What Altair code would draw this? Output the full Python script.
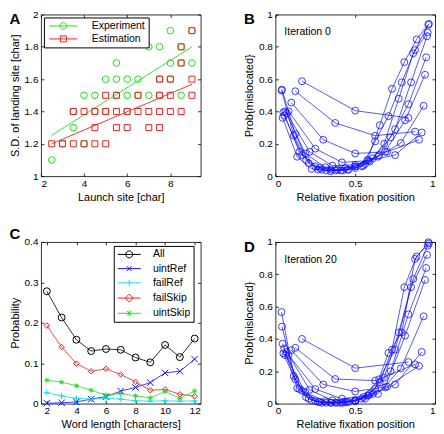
import altair as alt
import pandas as pd

FONT = "Liberation Sans"

# ---------------- Panel A : launch site vs S.D. of landing site ----------------
launch_exp = [2.5, 3, 3.5, 3.5, 4, 4, 4.5, 4.5, 5, 5, 5.5, 5.5, 5.5, 6, 6, 6, 6.5, 6.5,
              7, 7, 7.5, 7.5, 7.5, 8, 8, 8, 8.5, 8.5, 8.5, 9, 9]
sd_exp = [1.1, 1.2, 1.3, 1.4, 1.5, 1.2, 1.5, 1.4, 1.6, 1.4, 1.7, 1.6, 1.5, 1.6, 1.5, 1.4, 1.6, 1.5,
          1.8, 1.5, 1.8, 1.6, 1.5, 1.9, 1.7, 1.6, 1.8, 1.7, 1.5, 1.9, 1.7]
launch_est = [2.5, 3, 3.5, 3.5, 4, 4, 4.5, 4.5, 4.5, 5, 5, 5, 5.5, 5.5, 5.5, 6, 6, 6.5, 6.5,
              7, 7, 7.5, 7.5, 7.5, 7.5, 8, 8, 8, 8.5, 8.5, 8.5, 9, 9, 9]
sd_est = [1.2, 1.2, 1.4, 1.2, 1.4, 1.2, 1.4, 1.3, 1.2, 1.5, 1.4, 1.2, 1.5, 1.4, 1.3, 1.4, 1.3, 1.5, 1.4,
          1.4, 1.3, 1.6, 1.5, 1.4, 1.3, 1.6, 1.5, 1.4, 1.8, 1.7, 1.4, 1.9, 1.6, 1.5]
fit_launch = [2.5, 9.0]
fit_exp = [1.253, 1.800]
fit_est = [1.200, 1.568]
series_A = ["Experiment", "Estimation"]

# ---------------- Panel C : probabilities by word length ----------------
word_len = [2, 3, 4, 5, 6, 7, 8, 9, 10, 11, 12]
p_all = [0.278, 0.213, 0.158, 0.130, 0.135, 0.133, 0.114, 0.102, 0.145, 0.115, 0.161]
p_uintRef = [0.001, 0.002, 0.004, 0.011, 0.017, 0.031, 0.040, 0.052, 0.076, 0.080, 0.110]
p_failRef = [0.027, 0.019, 0.013, 0.011, 0.013, 0.011, 0.007, 0.006, 0.007, 0.006, 0.007]
p_failSkip = [0.193, 0.140, 0.099, 0.080, 0.086, 0.072, 0.054, 0.033, 0.035, 0.023, 0.018]
p_uintSkip = [0.058, 0.053, 0.044, 0.033, 0.021, 0.025, 0.019, 0.014, 0.030, 0.013, 0.031]
series_C = ["All", "uintRef", "failRef", "failSkip", "uintSkip"]

# ---------------- Panel B : iteration 0 (one curve per length 3..13) ----------------
it0_len3 = [0.587, 0.405, 0.360]
it0_len4 = [0.525, 0.329, 0.250, 0.275]
it0_len5 = [0.455, 0.225, 0.140, 0.150, 0.225]
it0_len6 = [0.400, 0.170, 0.085, 0.095, 0.130, 0.270]
it0_len7 = [0.390, 0.150, 0.065, 0.070, 0.120, 0.205, 0.435]
it0_len8 = [0.400, 0.140, 0.055, 0.050, 0.075, 0.150, 0.345, 0.627]
it0_len9 = [0.375, 0.130, 0.050, 0.040, 0.060, 0.110, 0.240, 0.445, 0.735]
it0_len10 = [0.395, 0.150, 0.060, 0.040, 0.040, 0.065, 0.130, 0.290, 0.580, 0.865]
it0_len11 = [0.360, 0.120, 0.045, 0.035, 0.035, 0.050, 0.090, 0.200, 0.479, 0.760, 0.889]
it0_len12 = [0.535, 0.260, 0.080, 0.040, 0.035, 0.040, 0.060, 0.215, 0.371, 0.580, 0.780, 0.936]
it0_len13 = [0.530, 0.250, 0.100, 0.040, 0.030, 0.035, 0.060, 0.100, 0.315, 0.540, 0.705, 0.846, 0.942]

# ---------------- Panel D : iteration 20 ----------------
it20_len3 = [0.400, 0.219, 0.257]
it20_len4 = [0.345, 0.152, 0.142, 0.243]
it20_len5 = [0.330, 0.118, 0.075, 0.105, 0.233]
it20_len6 = [0.300, 0.090, 0.030, 0.050, 0.118, 0.319]
it20_len7 = [0.320, 0.085, 0.020, 0.020, 0.060, 0.217, 0.540]
it20_len8 = [0.300, 0.070, 0.015, 0.010, 0.030, 0.100, 0.420, 0.765]
it20_len9 = [0.340, 0.080, 0.010, 0.005, 0.015, 0.060, 0.200, 0.552, 0.839]
it20_len10 = [0.310, 0.090, 0.015, 0.005, 0.010, 0.040, 0.150, 0.333, 0.720, 0.920]
it20_len11 = [0.370, 0.095, 0.020, 0.005, 0.005, 0.020, 0.060, 0.160, 0.440, 0.771, 0.976]
it20_len12 = [0.476, 0.150, 0.030, 0.005, 0.005, 0.010, 0.030, 0.090, 0.313, 0.440, 0.895, 0.998]
it20_len13 = [0.566, 0.170, 0.040, 0.010, 0.005, 0.005, 0.015, 0.050, 0.130, 0.333, 0.720, 0.910, 0.990]

it0_curves = [it0_len3, it0_len4, it0_len5, it0_len6, it0_len7, it0_len8, it0_len9,
              it0_len10, it0_len11, it0_len12, it0_len13]
it20_curves = [it20_len3, it20_len4, it20_len5, it20_len6, it20_len7, it20_len8, it20_len9,
               it20_len10, it20_len11, it20_len12, it20_len13]

# ---------------- styling ----------------
W, H = 160, 162
GREEN = "#22dd22"
RED = "#f02020"
BLUE = "#1010ff"
CYAN = "#00e0f0"
BLACK = "#000000"

AXBASE = dict(domain=False, grid=False, offset=-3, tickSize=3, tickColor="#000", tickWidth=0.8)


def bottom_axis(vals, title, fmt):
    return alt.Axis(orient="bottom", values=vals, title=title, format=fmt,
                    labelPadding=2, titlePadding=3, **AXBASE)


def left_axis(vals, title, fmt):
    return alt.Axis(orient="left", values=vals, title=title, format=fmt,
                    labelPadding=3, titlePadding=4, **AXBASE)


def top_ticks(vals):
    return alt.Axis(orient="top", values=vals, title=None, labels=False, **AXBASE)


def right_ticks(vals):
    return alt.Axis(orient="right", values=vals, title=None, labels=False, **AXBASE)


def letter(txt, dy):
    return alt.Chart(pd.DataFrame({"t": [txt]})).mark_text(
        font=FONT, fontSize=15, fontWeight="bold", align="center", baseline="top", color="#000"
    ).encode(x=alt.value(-26), y=alt.value(dy), text="t:N")


# ---------------- Panel A ----------------
xsA = alt.Scale(domain=[2, 9.4], nice=False, zero=False)
ysA = alt.Scale(domain=[1, 2], nice=False, zero=False)
xtA = [2, 4, 6, 8]
ytA = [1, 1.2, 1.4, 1.6, 1.8, 2]
colA = alt.Scale(domain=series_A, range=[GREEN, RED])

dfA_fit = pd.DataFrame({"x": fit_launch + fit_launch, "y": fit_exp + fit_est,
                        "s": [series_A[0]] * 2 + [series_A[1]] * 2})
fitA = alt.Chart(dfA_fit).mark_line(strokeWidth=0.9).encode(
    x=alt.X("x:Q", scale=xsA, axis=bottom_axis(xtA, "Launch site [char]", "d")),
    y=alt.Y("y:Q", scale=ysA, axis=left_axis(ytA, "S.D. of landing site [char]", ".1~f")),
    color=alt.Color("s:N", scale=colA, legend=None),
    detail="s:N",
)
expA = alt.Chart(pd.DataFrame({"x": launch_exp, "y": sd_exp})).mark_point(
    shape="circle", size=44, color=GREEN, strokeWidth=1, filled=False, opacity=1
).encode(x=alt.X("x:Q", scale=xsA, axis=top_ticks(xtA)),
         y=alt.Y("y:Q", scale=ysA, axis=right_ticks(ytA)))
estA = alt.Chart(pd.DataFrame({"x": launch_est, "y": sd_est})).mark_point(
    shape="square", size=36, color=RED, strokeWidth=1, filled=False, opacity=1
).encode(x=alt.X("x:Q", scale=xsA, axis=None), y=alt.Y("y:Q", scale=ysA, axis=None))

legA_props = dict(orient="none", legendX=3, legendY=3, title=None, strokeColor="#000",
                  fillColor="#fff", padding=3, symbolSize=100, symbolOffset=11, labelOffset=23,
                  symbolStrokeWidth=1, labelFont=FONT, labelFontSize=10.5, labelColor="#000",
                  rowPadding=2, cornerRadius=0)
pathA = ["M-2.8,0L2.8,0M0.67,0A0.67,0.67,0,1,1,-0.67,0A0.67,0.67,0,1,1,0.67,0",
         "M-2.8,0L2.8,0M-0.6,-0.6L0.6,-0.6L0.6,0.6L-0.6,0.6Z"]
legA = alt.Chart(pd.DataFrame({"s": series_A})).mark_point(opacity=0, filled=False).encode(
    x=alt.value(0), y=alt.value(0),
    color=alt.Color("s:N", scale=colA, legend=alt.Legend(**legA_props)),
    shape=alt.Shape("s:N", scale=alt.Scale(domain=series_A, range=pathA), legend=alt.Legend(**legA_props)),
)
panelA = alt.layer(fitA, expA, estA, legA, letter("A", -2)).resolve_axis(
    x="independent", y="independent").resolve_scale(color="independent", shape="independent"
).properties(width=W, height=H)


# ---------------- Panels B and D ----------------
def curves_df(curves):
    rows = []
    for vals in curves:
        n = len(vals)
        for i, v in enumerate(vals):
            rows.append({"L": n, "x": (i + 0.5) / n, "p": v})
    return pd.DataFrame(rows)


xsB = alt.Scale(domain=[0, 1], nice=False, zero=False)
ysB = alt.Scale(domain=[0, 1], nice=False, zero=False)
xtB = [0, 0.5, 1]
ytB = [0, 0.2, 0.4, 0.6, 0.8, 1]


def iter_panel(curves, label, letter_txt):
    df = curves_df(curves)
    lines = alt.Chart(df).mark_line(color=BLUE, strokeWidth=0.7).encode(
        x=alt.X("x:Q", scale=xsB, axis=bottom_axis(xtB, "Relative fixation position", ".1~f")),
        y=alt.Y("p:Q", scale=ysB, axis=left_axis(ytB, "Prob{mislocated}", ".1~f")),
        detail="L:N", order="x:Q",
    )
    pts = alt.Chart(df).mark_point(shape="circle", size=48, color=BLUE, strokeWidth=0.8,
                                   filled=False, opacity=1).encode(
        x=alt.X("x:Q", scale=xsB, axis=top_ticks(xtB)),
        y=alt.Y("p:Q", scale=ysB, axis=right_ticks(ytB)),
    )
    txt = alt.Chart(pd.DataFrame({"t": [label]})).mark_text(
        font=FONT, fontSize=10.5, align="left", baseline="alphabetic", color="#000"
    ).encode(x=alt.value(9), y=alt.value(21), text="t:N")
    return alt.layer(lines, pts, txt, letter(letter_txt, -2)).resolve_axis(
        x="independent", y="independent").properties(width=W, height=H)


panelB = iter_panel(it0_curves, "Iteration 0", "B")
panelD = iter_panel(it20_curves, "Iteration 20", "D")

# ---------------- Panel C ----------------
c_vals = [p_all, p_uintRef, p_failRef, p_failSkip, p_uintSkip]
dfC = pd.DataFrame([{"w": w, "p": v, "s": s} for s, vals in zip(series_C, c_vals)
                    for w, v in zip(word_len, vals)])
colC = alt.Scale(domain=series_C, range=[BLACK, BLUE, CYAN, RED, GREEN])
markC = alt.Scale(domain=series_C, range=[
    "circle",
    "M-1,-1L1,1M-1,1L1,-1",
    "M-1,0L1,0M0,-1L0,1",
    "diamond",
    "M-1,0L1,0M0,-1L0,1M-0.72,-0.72L0.72,0.72M-0.72,0.72L0.72,-0.72",
])
sizeC = alt.Scale(domain=series_C, range=[48, 25, 36, 64, 40])
xsC = alt.Scale(domain=[1.6, 12.4], nice=False, zero=False)
ysC = alt.Scale(domain=[0, 0.4], nice=False, zero=False)
xtC = [2, 4, 6, 8, 10, 12]
ytC = [0, 0.1, 0.2, 0.3, 0.4]

linesC = alt.Chart(dfC).mark_line(strokeWidth=0.8).encode(
    x=alt.X("w:Q", scale=xsC, axis=bottom_axis(xtC, "Word length [characters]", "d")),
    y=alt.Y("p:Q", scale=ysC, axis=left_axis(ytC, "Probability", ".1~f")),
    color=alt.Color("s:N", scale=colC, legend=None),
    detail="s:N",
)
ptsC = alt.Chart(dfC).mark_point(strokeWidth=1, filled=False, opacity=1).encode(
    x=alt.X("w:Q", scale=xsC, axis=top_ticks(xtC)),
    y=alt.Y("p:Q", scale=ysC, axis=right_ticks(ytC)),
    color=alt.Color("s:N", scale=colC, legend=None),
    shape=alt.Shape("s:N", scale=markC, legend=None),
    size=alt.Size("s:N", scale=sizeC, legend=None),
)
legC_props = dict(orient="none", legendX=73, legendY=4, title=None, strokeColor="#000",
                  fillColor="#fff", padding=3, symbolSize=100, symbolOffset=7, labelOffset=18.3,
                  symbolStrokeWidth=1, labelFont=FONT, labelFontSize=10.5, labelColor="#000",
                  rowPadding=3.25, cornerRadius=0)
pathC = [
    "M-2.3,0L2.3,0M0.7,0A0.7,0.7,0,1,1,-0.7,0A0.7,0.7,0,1,1,0.7,0",
    "M-2.3,0L2.3,0M-0.5,-0.5L0.5,0.5M-0.5,0.5L0.5,-0.5",
    "M-2.3,0L2.3,0M0,-0.6L0,0.6",
    "M-2.3,0L2.3,0M0,-0.8L0.8,0L0,0.8L-0.8,0Z",
    "M-2.3,0L2.3,0M0,-0.6L0,0.6M-0.45,-0.45L0.45,0.45M-0.45,0.45L0.45,-0.45",
]
legC = alt.Chart(pd.DataFrame({"s": series_C})).mark_point(opacity=0, filled=False).encode(
    x=alt.value(0), y=alt.value(0),
    color=alt.Color("s:N", scale=colC, legend=alt.Legend(**legC_props)),
    shape=alt.Shape("s:N", scale=alt.Scale(domain=series_C, range=pathC), legend=alt.Legend(**legC_props)),
)
panelC = alt.layer(linesC, ptsC, legC, letter("C", -15)).resolve_axis(
    x="independent", y="independent").resolve_scale(
    color="independent", shape="independent", size="independent").properties(width=W, height=H)

chart = alt.concat(panelA, panelB, panelC, panelD, columns=2,
                   spacing={"row": 23, "column": 41}).resolve_scale(
    color="independent", shape="independent", size="independent"
).properties(padding={"left": 0, "top": 0, "right": 0, "bottom": 0}, background="white"
).configure_view(stroke="#333", strokeWidth=1
).configure_axis(labelFont=FONT, labelFontSize=10, labelColor="#000", titleFont=FONT,
                 titleFontSize=11, titleFontWeight="normal", titleColor="#000")

chart.save("out.html", embed_options={"renderer": "svg", "actions": False})
